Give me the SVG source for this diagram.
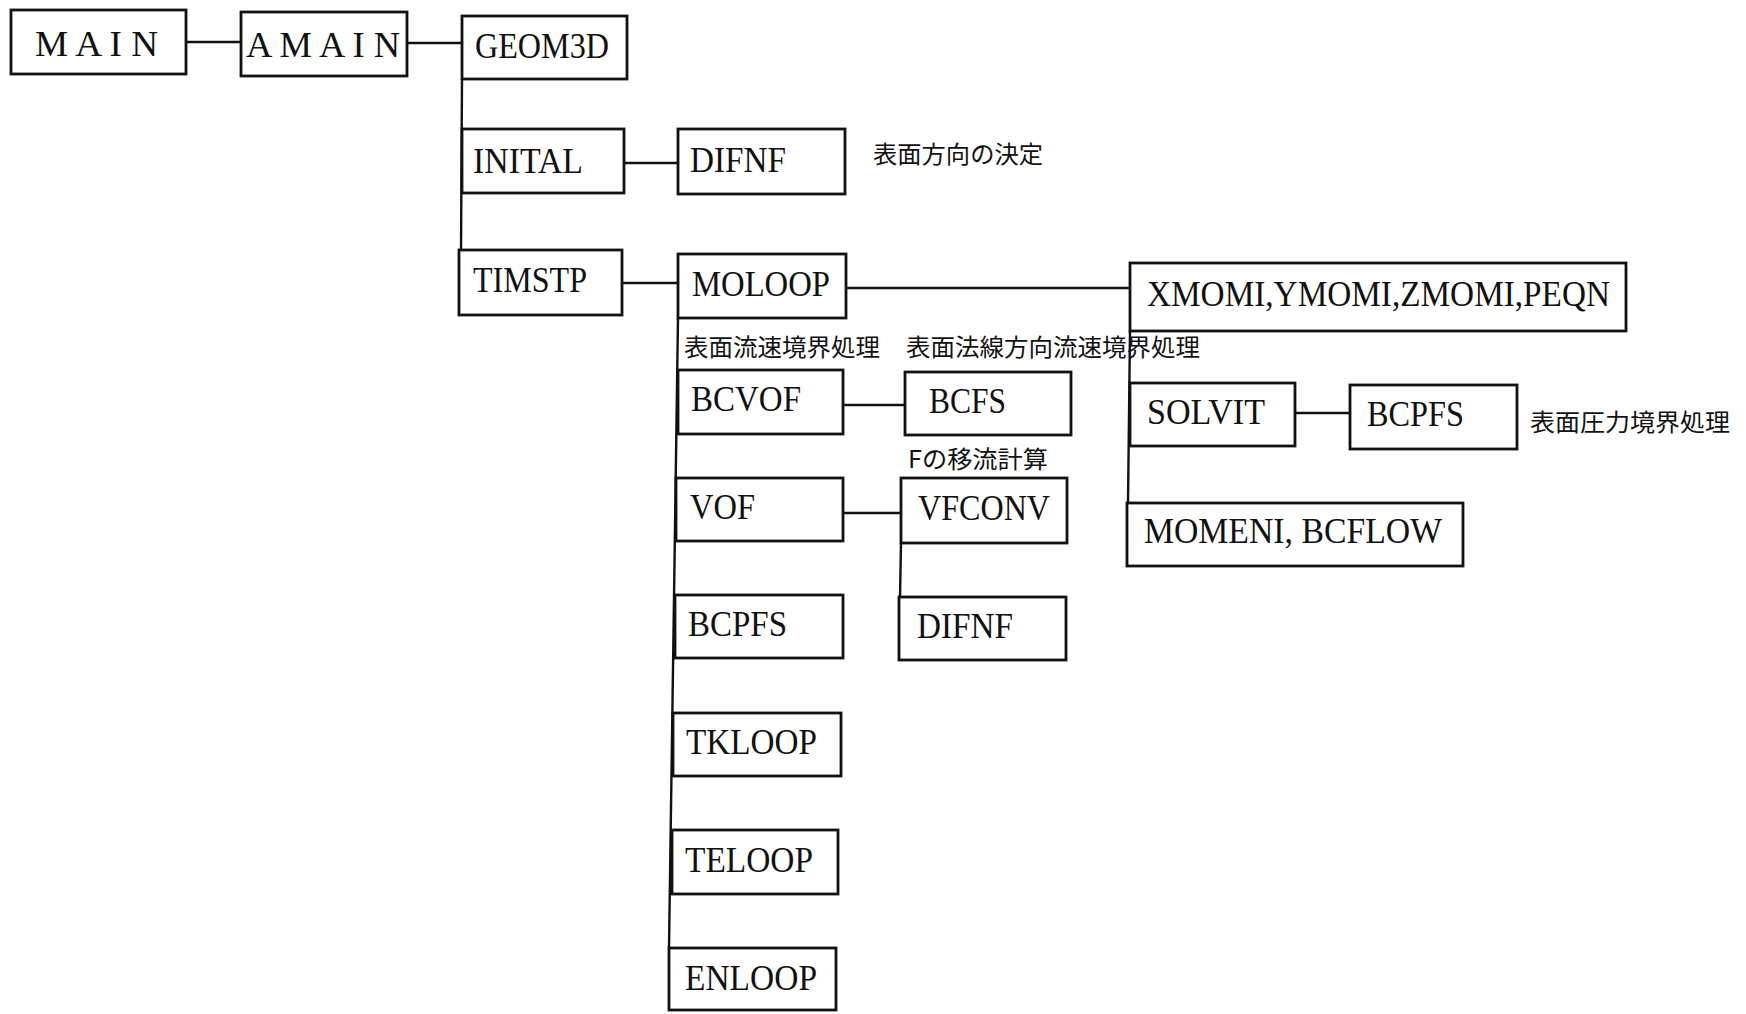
<svg xmlns="http://www.w3.org/2000/svg" width="1746" height="1014" viewBox="0 0 1746 1014">
<style>
.box{fill:#fff;stroke:#111;stroke-width:2.8}
.lbl{font-family:"Liberation Serif","DejaVu Serif",serif;font-size:35px;fill:#111}
.jp{font-family:"Noto Sans CJK JP","Noto Sans",sans-serif;font-size:24px;fill:#111}
.con line{stroke:#111;stroke-width:2.4}
</style>
<rect width="1746" height="1014" fill="#fff"/>
<g id="connectors" class="con">
<line x1="186" y1="42" x2="241" y2="42"/>
<line x1="407" y1="43" x2="462" y2="43"/>
<line x1="462" y1="79" x2="461" y2="250"/>
<line x1="624" y1="163" x2="678" y2="163"/>
<line x1="622" y1="283" x2="678" y2="283"/>
<line x1="846" y1="288" x2="1130" y2="288"/>
<line x1="1130" y1="331" x2="1128" y2="503"/>
<line x1="1295" y1="413" x2="1350" y2="413"/>
<line x1="678" y1="318" x2="669" y2="948"/>
<line x1="843" y1="405" x2="905" y2="405"/>
<line x1="843" y1="513" x2="901" y2="513"/>
<line x1="901" y1="543" x2="900" y2="597"/>
</g>
<g id="MAIN"><rect class="box" x="11" y="10" width="175" height="64"/><text class="lbl" x="35" y="56" textLength="123" lengthAdjust="spacingAndGlyphs">M A I N</text></g>
<g id="AMAIN"><rect class="box" x="241" y="12" width="166" height="64"/><text class="lbl" x="246" y="57" textLength="154" lengthAdjust="spacingAndGlyphs">A M A I N</text></g>
<g id="GEOM3D"><rect class="box" x="462" y="16" width="165" height="63"/><text class="lbl" x="475" y="58" textLength="134" lengthAdjust="spacingAndGlyphs">GEOM3D</text></g>
<g id="INITAL"><rect class="box" x="462" y="129" width="162" height="64"/><text class="lbl" x="473" y="173" textLength="110" lengthAdjust="spacingAndGlyphs">INITAL</text></g>
<g id="DIFNF1"><rect class="box" x="678" y="129" width="167" height="65"/><text class="lbl" x="690" y="172" textLength="96" lengthAdjust="spacingAndGlyphs">DIFNF</text></g>
<g id="TIMSTP"><rect class="box" x="459" y="250" width="163" height="65"/><text class="lbl" x="473" y="292" textLength="114" lengthAdjust="spacingAndGlyphs">TIMSTP</text></g>
<g id="MOLOOP"><rect class="box" x="678" y="254" width="168" height="64"/><text class="lbl" x="692" y="296" textLength="138" lengthAdjust="spacingAndGlyphs">MOLOOP</text></g>
<g id="XMOMI"><rect class="box" x="1130" y="263" width="496" height="68"/><text class="lbl" x="1147" y="306" textLength="463" lengthAdjust="spacingAndGlyphs">XMOMI,YMOMI,ZMOMI,PEQN</text></g>
<g id="BCVOF"><rect class="box" x="678" y="370" width="165" height="64"/><text class="lbl" x="691" y="411" textLength="110" lengthAdjust="spacingAndGlyphs">BCVOF</text></g>
<g id="BCFS"><rect class="box" x="905" y="372" width="166" height="63"/><text class="lbl" x="929" y="413" textLength="77" lengthAdjust="spacingAndGlyphs">BCFS</text></g>
<g id="SOLVIT"><rect class="box" x="1130" y="383" width="165" height="63"/><text class="lbl" x="1147" y="424" textLength="118" lengthAdjust="spacingAndGlyphs">SOLVIT</text></g>
<g id="BCPFS2"><rect class="box" x="1350" y="385" width="167" height="64"/><text class="lbl" x="1367" y="426" textLength="97" lengthAdjust="spacingAndGlyphs">BCPFS</text></g>
<g id="VOF"><rect class="box" x="676" y="478" width="167" height="63"/><text class="lbl" x="690" y="519" textLength="65" lengthAdjust="spacingAndGlyphs">VOF</text></g>
<g id="VFCONV"><rect class="box" x="901" y="478" width="166" height="65"/><text class="lbl" x="918" y="520" textLength="132" lengthAdjust="spacingAndGlyphs">VFCONV</text></g>
<g id="MOMENI"><rect class="box" x="1127" y="503" width="336" height="63"/><text class="lbl" x="1144" y="543" textLength="298" lengthAdjust="spacingAndGlyphs">MOMENI, BCFLOW</text></g>
<g id="BCPFS1"><rect class="box" x="675" y="595" width="168" height="63"/><text class="lbl" x="688" y="636" textLength="99" lengthAdjust="spacingAndGlyphs">BCPFS</text></g>
<g id="DIFNF2"><rect class="box" x="899" y="597" width="167" height="63"/><text class="lbl" x="917" y="638" textLength="96" lengthAdjust="spacingAndGlyphs">DIFNF</text></g>
<g id="TKLOOP"><rect class="box" x="673" y="713" width="168" height="63"/><text class="lbl" x="686" y="754" textLength="131" lengthAdjust="spacingAndGlyphs">TKLOOP</text></g>
<g id="TELOOP"><rect class="box" x="672" y="830" width="166" height="64"/><text class="lbl" x="685" y="872" textLength="128" lengthAdjust="spacingAndGlyphs">TELOOP</text></g>
<g id="ENLOOP"><rect class="box" x="669" y="948" width="167" height="62"/><text class="lbl" x="685" y="990" textLength="132" lengthAdjust="spacingAndGlyphs">ENLOOP</text></g>
<g id="labels">
<text class="jp" x="873" y="163" textLength="170" lengthAdjust="spacingAndGlyphs">表面方向の決定</text>
<text class="jp" x="684" y="356" textLength="196" lengthAdjust="spacingAndGlyphs">表面流速境界処理</text>
<text class="jp" x="906" y="356" textLength="294" lengthAdjust="spacingAndGlyphs">表面法線方向流速境界処理</text>
<text class="jp" x="908" y="468" textLength="140" lengthAdjust="spacingAndGlyphs">Fの移流計算</text>
<text class="jp" x="1530" y="431" textLength="200" lengthAdjust="spacingAndGlyphs">表面圧力境界処理</text>
</g>
</svg>
